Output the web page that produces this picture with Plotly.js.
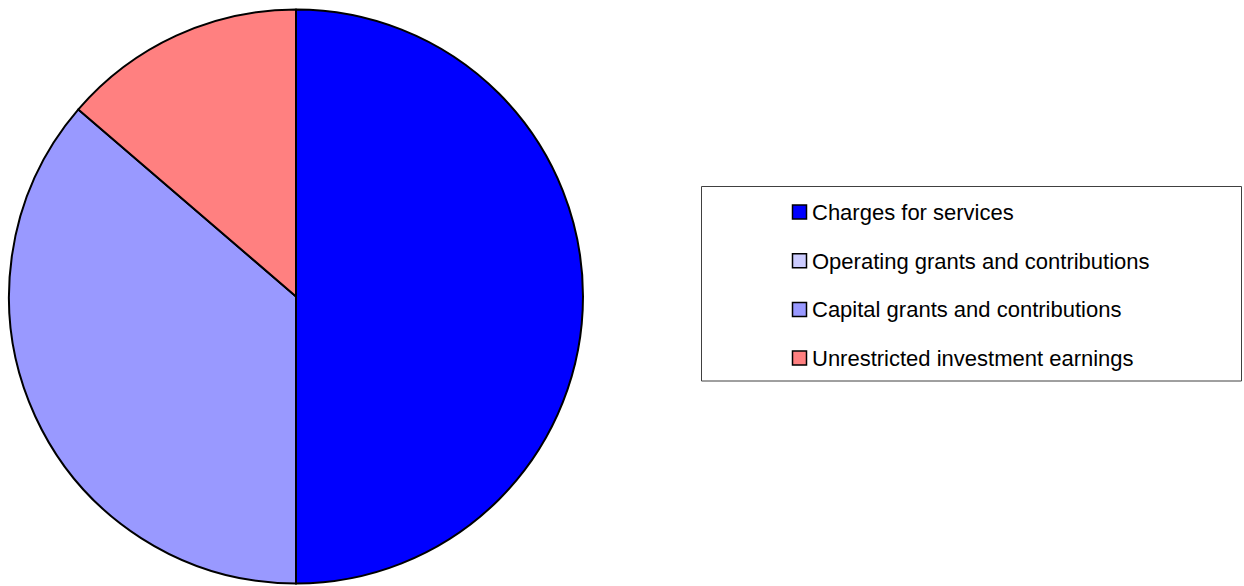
<!DOCTYPE html>
<html>
<head>
<meta charset="utf-8">
<script src="https://cdn.plot.ly/plotly-3.0.1.min.js"></script>
<style>
  html, body { margin: 0; padding: 0; background: #ffffff; }
  #chart { width: 1244px; height: 586px; }
</style>
</head>
<body>
<div id="chart"></div>
<script>
// ---- Data (shares in percent) ----
const categories = [
  "Charges for services",
  "Operating grants and contributions",
  "Capital grants and contributions",
  "Unrestricted investment earnings"
];
const shares = [50.0, 0.0, 36.3, 13.7];
const sliceColors = ["#0000FF", "#CCCCFF", "#9999FF", "#FF8080"];

// ---- Layout helpers (pixel -> paper fraction) ----
const W = 1244, H = 586;
const px = x => x / W;
const py = y => 1 - y / H;

const FONT = "Liberation Sans, Arial, Helvetica, sans-serif";

const pie = {
  type: "pie",
  labels: categories,
  values: shares,
  sort: false,
  direction: "clockwise",
  rotation: 0,
  textinfo: "none",
  hoverinfo: "label+percent",
  showlegend: false,
  marker: {
    colors: sliceColors,
    line: { color: "#000000", width: 2 }
  },
  domain: {
    x: [px(9), px(583)],
    y: [py(583.5), py(9.5)]
  }
};

// ---- Legend box built from the same arrays ----
const shapes = [];
const annotations = [];
shapes.push({
  type: "rect", xref: "paper", yref: "paper",
  x0: px(701.5), x1: px(1241.5), y0: py(381), y1: py(186.5),
  line: { color: "#404040", width: 1 }, fillcolor: "rgba(0,0,0,0)"
});
const rowTop = 212, rowStep = 48.7;
categories.forEach((lab, i) => {
  const cy = rowTop + i * rowStep;
  shapes.push({
    type: "rect", xref: "paper", yref: "paper",
    x0: px(792.5), x1: px(806.5), y0: py(cy + 7), y1: py(cy - 7),
    line: { color: "#000000", width: 1.5 }, fillcolor: sliceColors[i]
  });
  annotations.push({
    xref: "paper", yref: "paper",
    x: px(810), y: py(cy + 0.5),
    xanchor: "left", yanchor: "middle",
    text: lab, showarrow: false,
    font: { family: FONT, size: 22, color: "#000000" }
  });
});

const layout = {
  width: W, height: H,
  margin: { l: 0, r: 0, t: 0, b: 0, pad: 0 },
  paper_bgcolor: "#ffffff",
  plot_bgcolor: "#ffffff",
  showlegend: false,
  font: { family: FONT, color: "#000000" },
  shapes: shapes,
  annotations: annotations
};

Plotly.newPlot("chart", [pie], layout, { displayModeBar: false, staticPlot: true });
</script>
</body>
</html>
